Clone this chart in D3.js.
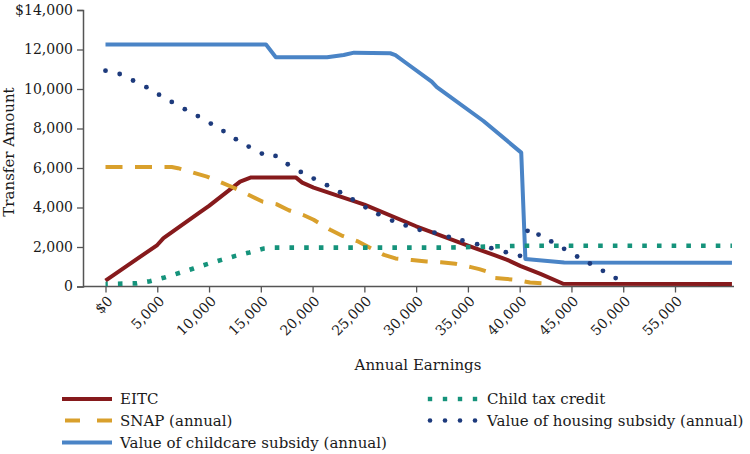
<!DOCTYPE html>
<html><head><meta charset="utf-8">
<script src="https://cdn.jsdelivr.net/npm/d3@7"></script>
<style>
body{margin:0;background:#fff}
text{font-family:"DejaVu Serif",serif;fill:#1a1a1a}
</style>
</head><body>
<svg id="c" width="750" height="454"></svg>
<script>
// ---- data ----
const xTicks = [0,5000,10000,15000,20000,25000,30000,35000,40000,45000,50000,55000];
const xTickLabels = ["$0","5,000","10,000","15,000","20,000","25,000","30,000","35,000","40,000","45,000","50,000","55,000"];
const yTicks = [0,2000,4000,6000,8000,10000,12000,14000];
const yTickLabels = ["0","2,000","4,000","6,000","8,000","10,000","12,000","$14,000"];

const eitc = [[0,300],[2000,1020],[5000,2100],[5600,2450],[9000,3710],[10000,4080],[13000,5310],[14000,5515],[18400,5515],[19000,5260],[20100,5010],[25000,4150],[30000,3050],[35000,2070],[37500,1600],[38800,1350],[40100,1030],[42000,640],[44200,140],[60500,130]];
const snap = [[0,6050],[6400,6050],[7000,5990],[9800,5565],[12400,5000],[15200,4290],[16500,4170],[17700,3860],[19100,3620],[20100,3380],[21700,2870],[22900,2560],[24300,2300],[25400,2000],[26900,1600],[28000,1420],[29600,1340],[31000,1270],[32400,1230],[33800,1150],[35300,980],[36100,880],[37200,700],[37600,430],[39600,340],[41000,200],[43000,140]];
const childcare = [[0,12250],[15500,12250],[16450,11610],[21400,11610],[23000,11720],[24000,11840],[27500,11810],[28000,11720],[29000,11330],[31500,10370],[32000,10090],[36500,8380],[40150,6780],[40550,1390],[44300,1215],[60500,1200]];
const ctc = [[0,130],[3000,160],[4300,270],[5700,455],[7100,680],[8500,910],[9800,1130],[11200,1350],[12550,1550],[13900,1720],[15300,1920],[16300,1970],[33000,1970],[40000,2060],[60500,2060]];
const housing = [[0,10930],[1370,10760],[2660,10430],[3950,10090],[5170,9715],[6400,9345],[7660,8980],[8920,8630],[10170,8250],[11390,7870],[12590,7460],[13830,7085],[15100,6730],[16420,6610],[17600,6190],[18860,5800],[20110,5465],[21390,5130],[22650,4775],[23870,4410],[25110,4010],[26350,3660],[27680,3340],[28990,3090],[30340,2870],[31770,2730],[33150,2515],[34470,2330],[35890,2145],[37260,1940],[38660,1740],[40030,1555],[40760,2820],[41820,2630],[43050,2280],[44290,1910],[45550,1520],[46780,1165],[48040,795],[49270,425]];

const seriesNames = ["EITC","SNAP (annual)","Value of childcare subsidy (annual)","Child tax credit","Value of housing subsidy (annual)"];
const colors = {eitc:"#861a1c", snap:"#d9a02c", childcare:"#4a84c6", ctc:"#15937b", housing:"#1d3a7c"};

// ---- chart ----
const svg = d3.select("#c");
const x = d3.scaleLinear().domain([0,55000]).range([105.5,675]);
const y = d3.scaleLinear().domain([0,14000]).range([286.5,10]);
const axisColor = "#555";

// y axis
const ya = svg.append("g").attr("transform","translate(83,0)")
  .call(d3.axisLeft(y).tickValues(yTicks).tickSize(6).tickPadding(4).tickFormat((d,i)=>yTickLabels[i]));
ya.select(".domain").attr("stroke",axisColor).attr("stroke-width",1.5);
ya.selectAll(".tick line").attr("stroke",axisColor).attr("stroke-width",1.3);
ya.selectAll(".tick text").attr("font-size",14).attr("font-family","DejaVu Serif").attr("fill","#1a1a1a");

// x axis
const xa = svg.append("g").attr("transform","translate(0,286.5)")
  .call(d3.axisBottom(x).tickValues(xTicks).tickSize(6).tickFormat(""));
xa.select(".domain").remove();
xa.selectAll(".tick line").attr("stroke",axisColor).attr("stroke-width",1.3);
xa.append("line").attr("x1",83).attr("x2",734).attr("stroke",axisColor).attr("stroke-width",1.5);
xa.selectAll(".tick").append("text")
  .text((d,i)=>xTickLabels[i])
  .attr("font-size",14).attr("fill","#1a1a1a")
  .attr("text-anchor","end")
  .attr("transform","translate(4,12) rotate(-45)")
  .attr("dy","0.35em");

// axis titles
svg.append("text").attr("x",418).attr("y",370).attr("text-anchor","middle").attr("font-size",15).text("Annual Earnings");
svg.append("text").attr("transform","translate(14,152) rotate(-90)").attr("text-anchor","middle").attr("font-size",15).text("Transfer Amount");

// lines
const line = d3.line().x(d=>x(d[0])).y(d=>y(d[1]));
const plot = svg.append("g");
plot.append("path").datum(eitc).attr("d",line).attr("fill","none").attr("stroke",colors.eitc).attr("stroke-width",4).attr("stroke-linejoin","round");
plot.append("path").datum(snap).attr("d",line).attr("fill","none").attr("stroke",colors.snap).attr("stroke-width",4).attr("stroke-dasharray","17,12.5").attr("stroke-linejoin","round");
plot.append("path").datum(childcare).attr("d",line).attr("fill","none").attr("stroke",colors.childcare).attr("stroke-width",4).attr("stroke-linejoin","round");
plot.append("path").datum(ctc).attr("d",line).attr("fill","none").attr("stroke",colors.ctc).attr("stroke-width",4.6).attr("stroke-dasharray","4.6,10.1").attr("stroke-dashoffset",2.3);
plot.selectAll("circle.h").data(housing).join("circle").attr("class","h")
  .attr("cx",d=>x(d[0])).attr("cy",d=>y(d[1])).attr("r",2.4).attr("fill",colors.housing);

// legend
const leg = svg.append("g");
function legItem(lx, ly, name, kind){
  const g = leg.append("g");
  if(kind==="eitc"||kind==="childcare"){
    g.append("line").attr("x1",lx).attr("x2",lx+50).attr("y1",ly).attr("y2",ly).attr("stroke",colors[kind]).attr("stroke-width",4);
  } else if(kind==="snap"){
    g.append("line").attr("x1",lx+3).attr("x2",lx+50).attr("y1",ly).attr("y2",ly).attr("stroke",colors[kind]).attr("stroke-width",4).attr("stroke-dasharray","15,17");
  } else if(kind==="ctc"){
    for(let k=0;k<4;k++) g.append("rect").attr("x",lx+k*15-2.2).attr("y",ly-2.2).attr("width",4.4).attr("height",4.4).attr("fill",colors[kind]);
  } else {
    for(let k=0;k<4;k++) g.append("circle").attr("cx",lx+k*15).attr("cy",ly).attr("r",2.3).attr("fill",colors[kind]);
  }
  g.append("text").attr("x",kind==="ctc"||kind==="housing"?lx+57:lx+58).attr("y",ly).attr("dy","0.35em").attr("font-size",15).text(name);
}
legItem(62,399,seriesNames[0],"eitc");
legItem(62,420.5,seriesNames[1],"snap");
legItem(62,442.5,seriesNames[2],"childcare");
legItem(430,399,seriesNames[3],"ctc");
legItem(430,420.5,seriesNames[4],"housing");
</script>
</body></html>
